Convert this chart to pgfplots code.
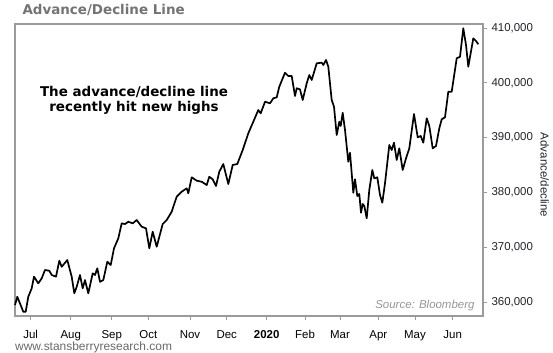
\documentclass[border=0pt]{standalone}
\usepackage{pgfplots}
\pgfplotsset{compat=1.18}
\usepackage{pgfplotstable}
\usepackage{fontspec}
\setmainfont{Liberation Sans}
\newfontfamily\dejavu{DejaVu Sans}
\definecolor{titlegray}{RGB}{115,115,115}
\definecolor{framegray}{RGB}{155,155,155}
\definecolor{srcgray}{RGB}{150,150,150}
\definecolor{urlgray}{RGB}{105,105,105}
\definecolor{ticktext}{RGB}{35,35,45}

\pgfplotstableread{
x y
15 359450
17.3 360970
23.3 358230
25.7 358230
28.3 360970
31.7 362500
34 364620
38.3 363410
41.7 364320
45 365840
49.3 365710
51.7 364930
56 364620
59.3 367540
61.7 366440
67.3 367660
71.7 364620
74.3 361590
76.7 362790
80 364930
82.7 362500
85 364010
88.3 361590
92.7 365240
95 364930
97.3 366150
100 363700
103.3 364010
107.3 367350
110.7 366750
114 369800
118.3 371620
121.7 374360
125 374230
128.3 374650
132.7 374360
136.7 374960
141.7 373740
146 373450
149.3 369800
152.7 372830
156.7 370090
162.7 374230
166.7 374960
171.7 376480
176.7 379220
181.7 380130
186.7 380750
188.3 379840
191.7 382760
196.7 382140
201.7 381950
206.7 381350
209.3 382860
212.7 382390
216 381170
219.3 383780
223.3 385180
226 383180
228.3 381530
232.7 385000
237.3 385180
242.7 387740
248.3 390780
253.3 392900
258.3 395040
260.7 394430
265 396550
270 396260
273.3 397170
276.7 397350
279.3 399290
282.7 400820
285 401840
288.3 401240
291.7 401240
295 397590
296.7 399000
300 398810
302.7 396860
306.7 399910
309.3 401420
311.7 400510
316.7 403560
321.7 403670
323.3 403250
326 404160
328.3 402940
331.7 396860
334 395640
336.7 390470
339.3 392900
340.7 392120
342.7 394540
345 391390
348.3 385600
350 387240
353.3 379950
355 382390
357.3 379340
359.3 379710
361 376300
362.7 377880
364.3 377520
366.7 375270
369.3 380440
372.3 384090
374.3 382570
377.3 382760
380 379530
382.3 378120
385 381660
389.3 388650
391.7 387740
394 389070
396.7 385910
399.3 388050
402.7 384090
406 386220
409.3 388050
414 394310
417.7 390050
420.7 390290
423.3 389070
426.7 393520
429.3 392120
432.7 388050
436 388470
439.3 391700
441.7 393340
445 393700
448.3 398380
451.7 398380
456.7 404470
460 404760
463.3 409950
466 406900
468.3 402940
473.3 408120
476 407630
478.3 407030
}\adline

\begin{document}
\begin{tikzpicture}
\path[use as bounding box] (0,0) rectangle (553bp,353bp);
\begin{axis}[
  at={(15bp,37bp)}, anchor=south west,
  scale only axis,
  width=468bp, height=292bp,
  xmin=15, xmax=483,
  ymin=357450, ymax=410730,
  axis line style={framegray, line width=1.1bp},
  tick style={framegray, line width=0.8bp},
  tick align=outside,
  major tick length=4bp,
  xtick={30.7,70.7,111.7,148.3,190,226.7,266.7,305,340,378.3,415,452.7},
  xticklabels={Jul,Aug,Sep,Oct,Nov,Dec,\textbf{2020},Feb,Mar,Apr,May,Jun},
  xtick pos=bottom,
  xticklabel style={font=\fontsize{11.5}{12}\selectfont, text=black, anchor=base, yshift=-18bp},
  ytick={360000,370000,380000,390000,400000,410000},
  ytick pos=right,
  yticklabel pos=right,
  yticklabel style={font=\fontsize{11.5}{12}\selectfont, text=ticktext, anchor=west, xshift=1bp,
    /pgf/number format/.cd, fixed, 1000 sep={,}, assume math mode=true},
  scaled y ticks=false,
  ylabel={Advance/decline},
  ylabel style={font=\fontsize{11.5}{12}\selectfont, text=ticktext, at={(axis description cs:1.132,0.483)}, anchor=center, rotate=180},
  clip=false,
]
\addplot[black, line width=1.7bp, line join=round] table[x=x, y=y] {\adline};
\end{axis}
\node[anchor=base west, text=titlegray, font=\dejavu\bfseries\fontsize{13.5}{15}\selectfont] at (19bp,338bp) {Advance/Decline Line};
\node[anchor=base, font=\dejavu\bfseries\fontsize{13.5}{16}\selectfont] at (134bp,256bp) {The advance/decline line};
\node[anchor=base, font=\dejavu\bfseries\fontsize{13.5}{16}\selectfont] at (134bp,241bp) {recently hit new highs};
\node[anchor=base east, text=srcgray, font=\itshape\fontsize{11.5}{12}\selectfont] at (478bp,44.5bp) {Source: Bloomberg};
\node[anchor=base west, text=urlgray, font=\fontsize{12}{13}\selectfont, inner sep=0pt] at (15bp,2.5bp) {www.stansberryresearch.com};
\end{tikzpicture}
\end{document}
